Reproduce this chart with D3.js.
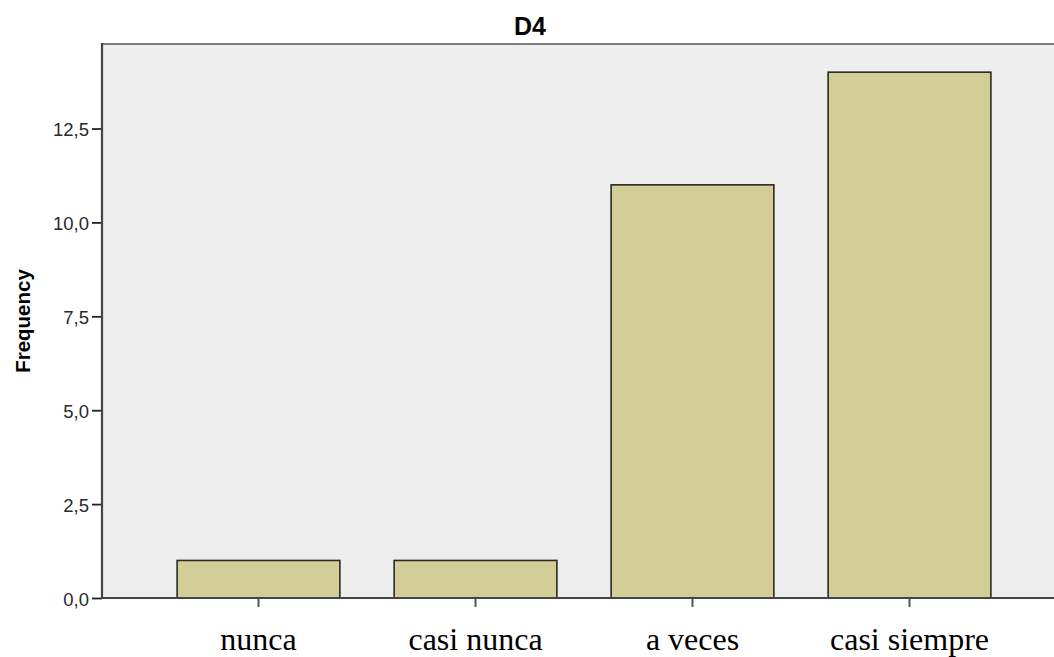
<!DOCTYPE html>
<html>
<head>
<meta charset="utf-8">
<script src="https://cdn.jsdelivr.net/npm/d3@7"></script>
<style>
  html, body { margin: 0; padding: 0; background: #ffffff; }
  svg { display: block; }
</style>
</head>
<body>
<svg id="chart" width="1054" height="657"></svg>
<script>
const title = "D4";
const yTitle = "Frequency";
const categories = ["nunca", "casi nunca", "a veces", "casi siempre"];
const frequencies = [1, 1, 11, 14];
const yTicks = [0, 2.5, 5, 7.5, 10, 12.5];

const W = 1054, H = 657;
const plot = { left: 102, top: 44, right: 1056, bottom: 598 };

const svg = d3.select("#chart");

const x = d3.scaleBand()
  .domain(categories)
  .range([150, 1018])
  .paddingInner(0.25)
  .paddingOuter(0.125);

const y = d3.scaleLinear()
  .domain([0, 14.75])
  .range([plot.bottom, plot.top]);

// plot background
svg.append("rect")
  .attr("x", plot.left).attr("y", plot.top)
  .attr("width", plot.right - plot.left)
  .attr("height", plot.bottom - plot.top)
  .attr("fill", "#eeeeee");

// top frame line
svg.append("line")
  .attr("x1", plot.left).attr("x2", plot.right)
  .attr("y1", plot.top).attr("y2", plot.top)
  .attr("stroke", "#7d7d7d").attr("stroke-width", 2);

// bars
svg.append("g").selectAll("rect")
  .data(frequencies)
  .join("rect")
  .attr("x", (d, i) => x(categories[i]))
  .attr("y", d => y(d))
  .attr("width", x.bandwidth())
  .attr("height", d => y(0) - y(d))
  .attr("fill", "#d3cd97")
  .attr("stroke", "#2a2a22")
  .attr("stroke-width", 1.6);

// y axis
const fmt = d => d3.format(".1f")(d).replace(".", ",");
const yAxis = svg.append("g")
  .attr("transform", `translate(${plot.left},0)`)
  .call(d3.axisLeft(y).tickValues(yTicks).tickFormat(fmt).tickSize(10).tickPadding(3));
yAxis.select(".domain").remove();
yAxis.selectAll(".tick line").attr("stroke", "#222").attr("stroke-width", 1.8);
yAxis.selectAll(".tick text")
  .attr("fill", "#2a2a2a")
  .style("font-family", "'Liberation Sans', Arial, sans-serif")
  .style("font-size", "18.5px")
  .attr("dy", "0.38em");

svg.append("line")
  .attr("x1", plot.left).attr("x2", plot.left)
  .attr("y1", plot.top - 1).attr("y2", plot.bottom + 1)
  .attr("stroke", "#444").attr("stroke-width", 2.2);

// x axis
const xAxis = svg.append("g")
  .attr("transform", `translate(0,${plot.bottom})`)
  .call(d3.axisBottom(x).tickSize(9).tickPadding(20));
xAxis.select(".domain").remove();
xAxis.selectAll(".tick line").attr("stroke", "#555").attr("stroke-width", 2);
xAxis.selectAll(".tick text")
  .attr("fill", "#000")
  .style("font-family", "'Liberation Serif', 'Times New Roman', serif")
  .style("font-size", "32px");

svg.append("line")
  .attr("x1", plot.left).attr("x2", plot.right)
  .attr("y1", plot.bottom).attr("y2", plot.bottom)
  .attr("stroke", "#444").attr("stroke-width", 2);

// title
svg.append("text")
  .attr("x", 530).attr("y", 35)
  .attr("text-anchor", "middle")
  .style("font-family", "'Liberation Sans', Arial, sans-serif")
  .style("font-weight", "bold")
  .style("font-size", "25px")
  .text(title);

// y title
svg.append("text")
  .attr("transform", `translate(30,321) rotate(-90)`)
  .attr("text-anchor", "middle")
  .style("font-family", "'Liberation Sans', Arial, sans-serif")
  .style("font-weight", "bold")
  .style("font-size", "20.5px")
  .text(yTitle);
</script>
</body>
</html>
